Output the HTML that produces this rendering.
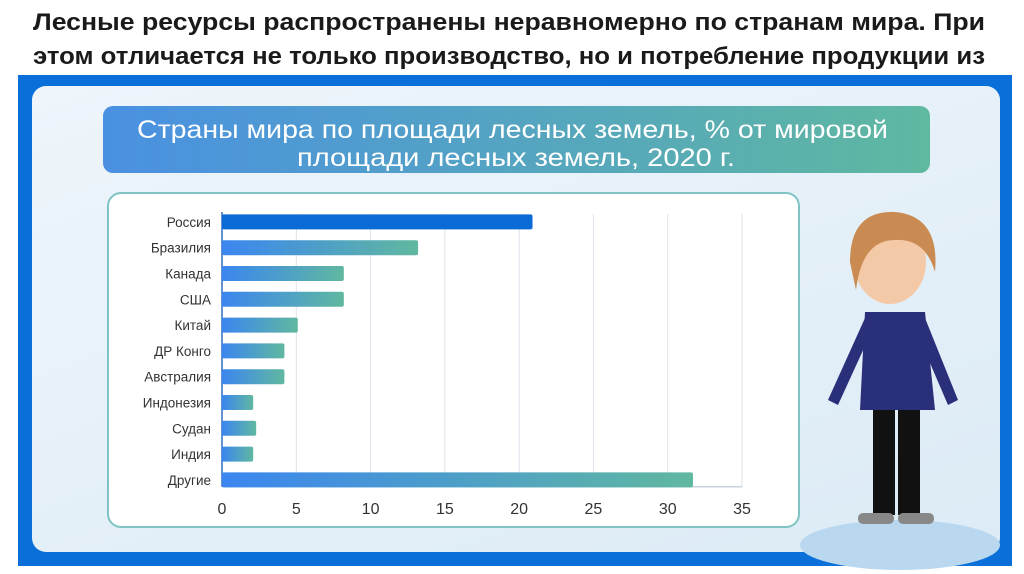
<!DOCTYPE html>
<html><head><meta charset="utf-8"><style>
body{margin:0;width:1024px;height:574px;background:#fff;position:relative;overflow:hidden;font-family:"Liberation Sans",sans-serif}
.hl{position:absolute;left:33px;font-weight:bold;font-size:24px;line-height:28px;color:#1a1a1a;white-space:nowrap;transform-origin:0 0}
.frame{position:absolute;left:18px;top:75px;width:994px;height:491px;background:#0a6fd8}
.panel{position:absolute;left:32px;top:86px;width:968px;height:466px;border-radius:14px;background:linear-gradient(160deg,#eef5fb,#dcebf6)}
.banner{position:absolute;left:103px;top:106px;width:827px;height:67px;border-radius:10px;background:linear-gradient(90deg,#4a90e2,#5fb8a0)}
.bl{position:absolute;color:#fff;font-size:25px;line-height:28px;white-space:nowrap;transform-origin:0 0}
.card{position:absolute;left:107px;top:192px;width:693px;height:336px;border-radius:14px;background:#fff;border:2px solid #7fc4c4;box-sizing:border-box}
</style></head><body>
<div class="hl fit" data-w="952" style="top:9px">Лесные ресурсы распространены неравномерно по странам мира. При</div>
<div class="hl fit" data-w="952" style="top:43px">этом отличается не только производство, но и потребление продукции из</div>
<div class="frame"></div>
<div class="panel"></div>
<div class="banner"></div>
<div class="bl fit" data-w="751" style="left:137px;top:116px">Страны мира по площади лесных земель, % от мировой</div>
<div class="bl fit" data-w="438" style="left:297px;top:144px">площади лесных земель, 2020 г.</div>
<div class="card"></div>
<svg width="1024" height="574" style="position:absolute;left:0;top:0">
<ellipse cx="900" cy="545" rx="100" ry="25" fill="#b9d8ef"/>
<rect x="873" y="405" width="22" height="110" fill="#111"/>
<rect x="898" y="405" width="22" height="110" fill="#111"/>
<rect x="858" y="513" width="36" height="11" rx="5" fill="#888"/>
<rect x="898" y="513" width="36" height="11" rx="5" fill="#888"/>
<path d="M865 312 L925 312 L935 410 L860 410 Z" fill="#2a2f7a"/>
<path d="M865 318 L828 400 L838 405 L870 335Z" fill="#2a2f7a"/>
<path d="M925 318 L958 400 L948 405 L918 335Z" fill="#2a2f7a"/>
<ellipse cx="890" cy="262" rx="36" ry="42" fill="#f4c9a8"/>
<path d="M850 262 Q850 210 895 212 Q940 216 935 272 Q925 238 895 240 Q862 240 856 290Z" fill="#c98b52"/>
</svg>
<svg id="chart" width="1024" height="574" style="position:absolute;left:0;top:0"></svg>
<script>
const categories=["Россия","Бразилия","Канада","США","Китай","ДР Конго","Австралия","Индонезия","Судан","Индия","Другие"];
const values=[20.9,13.2,8.2,8.2,5.1,4.2,4.2,2.1,2.3,2.1,31.7];
const ticks=[0,5,10,15,20,25,30,35];
document.querySelectorAll('.fit').forEach(el=>{const w=el.getBoundingClientRect().width;el.style.transform='scaleX('+(+el.dataset.w/w)+')';});
const NS="http://www.w3.org/2000/svg";
const svg=document.getElementById("chart");
const x0=222,x1=742,top0=209,step=25.8,bh=15,maxV=35;
const X=v=>x0+(x1-x0)*v/maxV;
const Y=i=>top0+i*step;
function mk(t,a){const e=document.createElementNS(NS,t);for(const k in a)e.setAttribute(k,a[k]);svg.appendChild(e);return e;}
const defs=mk("defs",{});
const g=document.createElementNS(NS,"linearGradient");g.setAttribute("id","gr");defs.appendChild(g);
[["0","#3b86f0"],["1","#60b8a0"]].forEach(s=>{const st=document.createElementNS(NS,"stop");st.setAttribute("offset",s[0]);st.setAttribute("stop-color",s[1]);g.appendChild(st);});
const yb=Y(categories.length)-6;
ticks.forEach(t=>{
 if(t>0){const l=mk("line",{x1:X(t),x2:X(t),y1:top0+5,y2:yb,stroke:"#dde3ea","stroke-width":1});
 
 }
 const tx=mk("text",{x:X(t),y:514,"text-anchor":"middle","font-size":16,fill:"#333","font-family":"Liberation Sans, sans-serif"});tx.textContent=t;
 
 
});
const bx=mk("line",{x1:x0,x2:x1,y1:yb,y2:yb,stroke:"#c8d3de","stroke-width":1.5});


const ax=mk("line",{x1:x0,x2:x0,y1:top0+3,y2:yb,stroke:"#2f6fc0","stroke-width":1.5});


categories.forEach((c,i)=>{
 const y=Y(i)+(step-bh)/2;
 const r=mk("rect",{x:x0,y:y,width:X(values[i])-x0,height:bh,rx:2,fill:i===0?"#0a6ad6":"url(#gr)"});
 
 
 const t=mk("text",{x:211,y:y+bh/2+5,"text-anchor":"end","font-size":13.5,fill:"#333","font-family":"Liberation Sans, sans-serif"});t.textContent=c;
 
 
});
</script>
</body></html>
